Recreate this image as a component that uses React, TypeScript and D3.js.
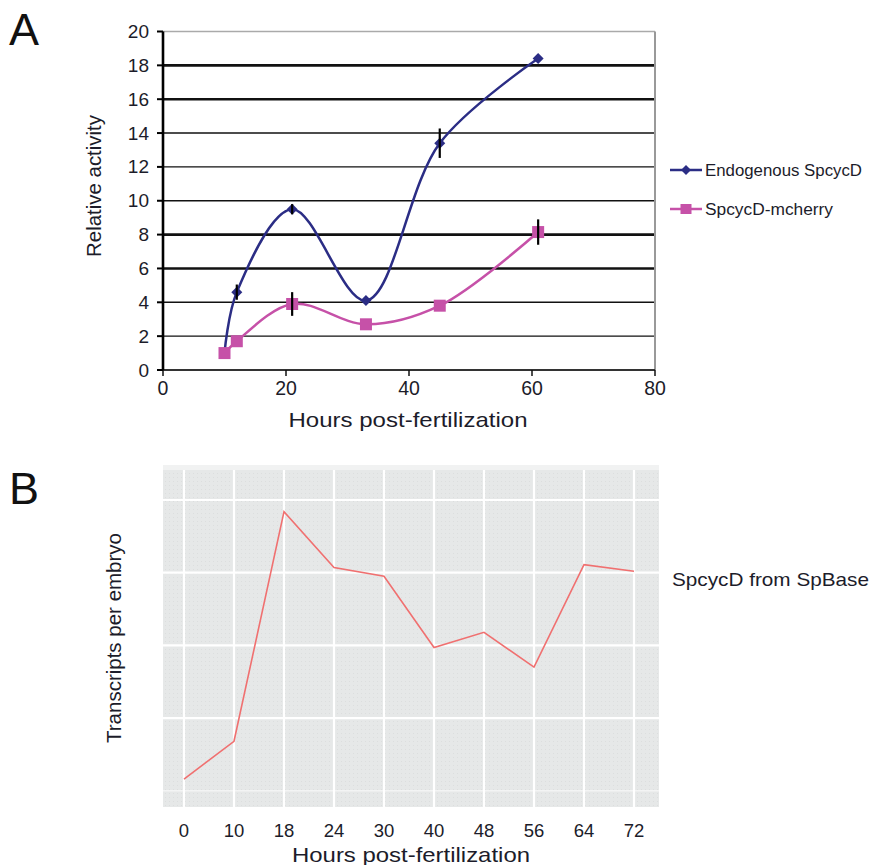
import React from "react";
import * as d3 from "d3";

// ---- Panel A data ----
const hoursA = [10, 12, 21, 33, 45, 61];
const endogenous = [1.0, 4.6, 9.5, 4.1, 13.4, 18.4];
const endogenousErr = [0, 0.45, 0.3, 0, 0.87, 0];
const mcherry = [1.0, 1.7, 3.9, 2.7, 3.8, 8.15];
const mcherryErr = [0, 0, 0.7, 0, 0, 0.75];
const yTicksA = [0, 2, 4, 6, 8, 10, 12, 14, 16, 18, 20];
const thickGrid = [6, 8, 16, 18];
const xTicksA = [0, 20, 40, 60, 80];
const seriesNames = ["Endogenous SpcycD", "SpcycD-mcherry"];

// ---- Panel B data ----
const hoursB = ["0", "10", "18", "24", "30", "40", "48", "56", "64", "72"];
const transcripts = [0.16, 0.68, 3.84, 3.07, 2.95, 1.97, 2.18, 1.7, 3.11, 3.02];
const gridB = [1, 2, 3, 4];
const seriesB = "SpcycD from SpBase";

const FONT = "'Liberation Sans', Arial, sans-serif";
const BLUE = "#2b2d85";
const PINK = "#c651a8";
const TXT = "#1c1c2a";

export default function App() {
  // Panel A scales
  const xA = d3.scaleLinear().domain([0, 80]).range([163, 655]);
  const yA = d3.scaleLinear().domain([0, 20]).range([370, 31.5]);
  const lineA = d3
    .line<number>()
    .x((_, i) => xA(hoursA[i]))
    .y((d) => yA(d))
    .curve(d3.curveCatmullRom.alpha(0.5));

  // Panel B scales
  const xB = d3.scalePoint<string>().domain(hoursB).range([184, 634]);
  const yB = d3.scaleLinear().domain([0, 4]).range([790.7, 500]);
  const lineB = d3
    .line<number>()
    .x((_, i) => xB(hoursB[i]) as number)
    .y((d) => yB(d));

  const diamond = (cx: number, cy: number, r: number) =>
    `M${cx},${cy - r}L${cx + r},${cy}L${cx},${cy + r}L${cx - r},${cy}Z`;

  return (
    <svg
      width={871}
      height={865}
      style={{ position: "absolute", left: 0, top: 0, background: "#fff" }}
      fontFamily={FONT}
    >
      <defs>
        <pattern id="dots" width="4" height="4" patternUnits="userSpaceOnUse">
          <rect width="4" height="4" fill="#e6e8e8" />
          <rect x="1" y="1" width="1" height="1" fill="#dcdede" />
        </pattern>
      </defs>

      {/* ===== Panel A ===== */}
      <text x={9} y={45} fontSize={45} fill="#111">A</text>

      {/* gridlines */}
      {yTicksA.filter((t) => t > 0 && t < 20).map((t) => (
        <line
          key={"g" + t}
          x1={xA(0)}
          x2={xA(80)}
          y1={yA(t)}
          y2={yA(t)}
          stroke="#111"
          strokeWidth={thickGrid.includes(t) ? 2.6 : 1.4}
        />
      ))}
      {/* top and right border */}
      <line x1={xA(0)} x2={xA(80)} y1={yA(20)} y2={yA(20)} stroke="#aaa" strokeWidth={1.5} />
      <line x1={xA(80)} x2={xA(80)} y1={yA(20)} y2={yA(0)} stroke="#999" strokeWidth={2} />
      {/* x axis */}
      <line x1={xA(0)} x2={xA(80)} y1={yA(0)} y2={yA(0)} stroke="#333" strokeWidth={2} />
      {xTicksA.map((t) => (
        <g key={"xt" + t}>
          <line x1={xA(t)} x2={xA(t)} y1={yA(0)} y2={yA(0) + 6} stroke="#111" strokeWidth={1.5} />
          <text x={xA(t)} y={395} fontSize={19.5} textAnchor="middle" fill={TXT}>
            {t}
          </text>
        </g>
      ))}
      {/* y axis */}
      <line x1={xA(0)} x2={xA(0)} y1={yA(20)} y2={yA(0)} stroke="#000" strokeWidth={2.6} />
      {yTicksA.map((t) => (
        <g key={"yt" + t}>
          <line x1={xA(0) - 6} x2={xA(0)} y1={yA(t)} y2={yA(t)} stroke="#000" strokeWidth={2} />
          <text x={149} y={yA(t) + 6.5} fontSize={19} textAnchor="end" fill={TXT}>
            {t}
          </text>
        </g>
      ))}
      <text
        transform={`translate(101,186) rotate(-90)`}
        fontSize={20}
        textAnchor="middle"
        fill={TXT}
        textLength={142}
        lengthAdjust="spacingAndGlyphs"
      >
        Relative activity
      </text>
      <text
        x={408}
        y={427}
        fontSize={21}
        textAnchor="middle"
        fill={TXT}
        textLength={239}
        lengthAdjust="spacingAndGlyphs"
      >
        Hours post-fertilization
      </text>

      {/* series lines */}
      <path d={lineA(endogenous) || ""} fill="none" stroke={BLUE} strokeWidth={2.5} />
      <path d={lineA(mcherry) || ""} fill="none" stroke={PINK} strokeWidth={2.5} />
      {/* markers */}
      {endogenous.map((v, i) => (
        <path key={"bd" + i} d={diamond(xA(hoursA[i]), yA(v), 5.5)} fill={BLUE} />
      ))}
      {mcherry.map((v, i) => (
        <rect
          key={"ps" + i}
          x={xA(hoursA[i]) - 6}
          y={yA(v) - 6}
          width={12}
          height={12}
          fill={PINK}
        />
      ))}
      {/* error bars */}
      {endogenous.map((v, i) =>
        endogenousErr[i] > 0 ? (
          <line
            key={"be" + i}
            x1={xA(hoursA[i])}
            x2={xA(hoursA[i])}
            y1={yA(v - endogenousErr[i])}
            y2={yA(v + endogenousErr[i])}
            stroke="#000"
            strokeWidth={2.2}
          />
        ) : null
      )}
      {mcherry.map((v, i) =>
        mcherryErr[i] > 0 ? (
          <line
            key={"pe" + i}
            x1={xA(hoursA[i])}
            x2={xA(hoursA[i])}
            y1={yA(v - mcherryErr[i])}
            y2={yA(v + mcherryErr[i])}
            stroke="#000"
            strokeWidth={2.2}
          />
        ) : null
      )}

      {/* legend */}
      <line x1={670} x2={702} y1={170} y2={170} stroke={BLUE} strokeWidth={2.5} />
      <path d={diamond(686, 170, 5)} fill={BLUE} />
      <text x={705} y={176} fontSize={16} fill={TXT} textLength={157} lengthAdjust="spacingAndGlyphs">
        {seriesNames[0]}
      </text>
      <line x1={670} x2={702} y1={209} y2={209} stroke={PINK} strokeWidth={2.5} />
      <rect x={680.5} y={204} width={11} height={10} fill={PINK} />
      <text x={705} y={215} fontSize={16} fill={TXT} textLength={128} lengthAdjust="spacingAndGlyphs">
        {seriesNames[1]}
      </text>

      {/* ===== Panel B ===== */}
      <text x={9} y={504} fontSize={45} fill="#111">B</text>
      <rect x={163} y={465} width={496} height={6} fill="#f1f2f2" />
      <rect x={163} y={470} width={496} height={337} fill="url(#dots)" />
      {/* faint bottom gridline */}
      <line x1={163} x2={659} y1={yB(0)} y2={yB(0)} stroke="#f3f4f4" strokeWidth={1.5} />
      {gridB.map((g) => (
        <line key={"hb" + g} x1={163} x2={659} y1={yB(g)} y2={yB(g)} stroke="#fff" strokeWidth={2.2} />
      ))}
      {hoursB.map((h) => (
        <line
          key={"vb" + h}
          x1={xB(h) as number}
          x2={xB(h) as number}
          y1={470}
          y2={807}
          stroke="#fff"
          strokeWidth={2.2}
        />
      ))}
      <path d={lineB(transcripts) || ""} fill="none" stroke="#f07070" strokeWidth={1.6} />
      {hoursB.map((h) => (
        <text key={"xl" + h} x={xB(h) as number} y={837} fontSize={18.5} textAnchor="middle" fill={TXT}>
          {h}
        </text>
      ))}
      <text
        x={411}
        y={862}
        fontSize={21}
        textAnchor="middle"
        fill={TXT}
        textLength={238}
        lengthAdjust="spacingAndGlyphs"
      >
        Hours post-fertilization
      </text>
      <text
        transform={`translate(121,638) rotate(-90)`}
        fontSize={20.5}
        textAnchor="middle"
        fill={TXT}
        textLength={210}
        lengthAdjust="spacingAndGlyphs"
      >
        Transcripts per embryo
      </text>
      <text x={672} y={586} fontSize={19} fill={TXT} textLength={197} lengthAdjust="spacingAndGlyphs">
        {seriesB}
      </text>
    </svg>
  );
}
